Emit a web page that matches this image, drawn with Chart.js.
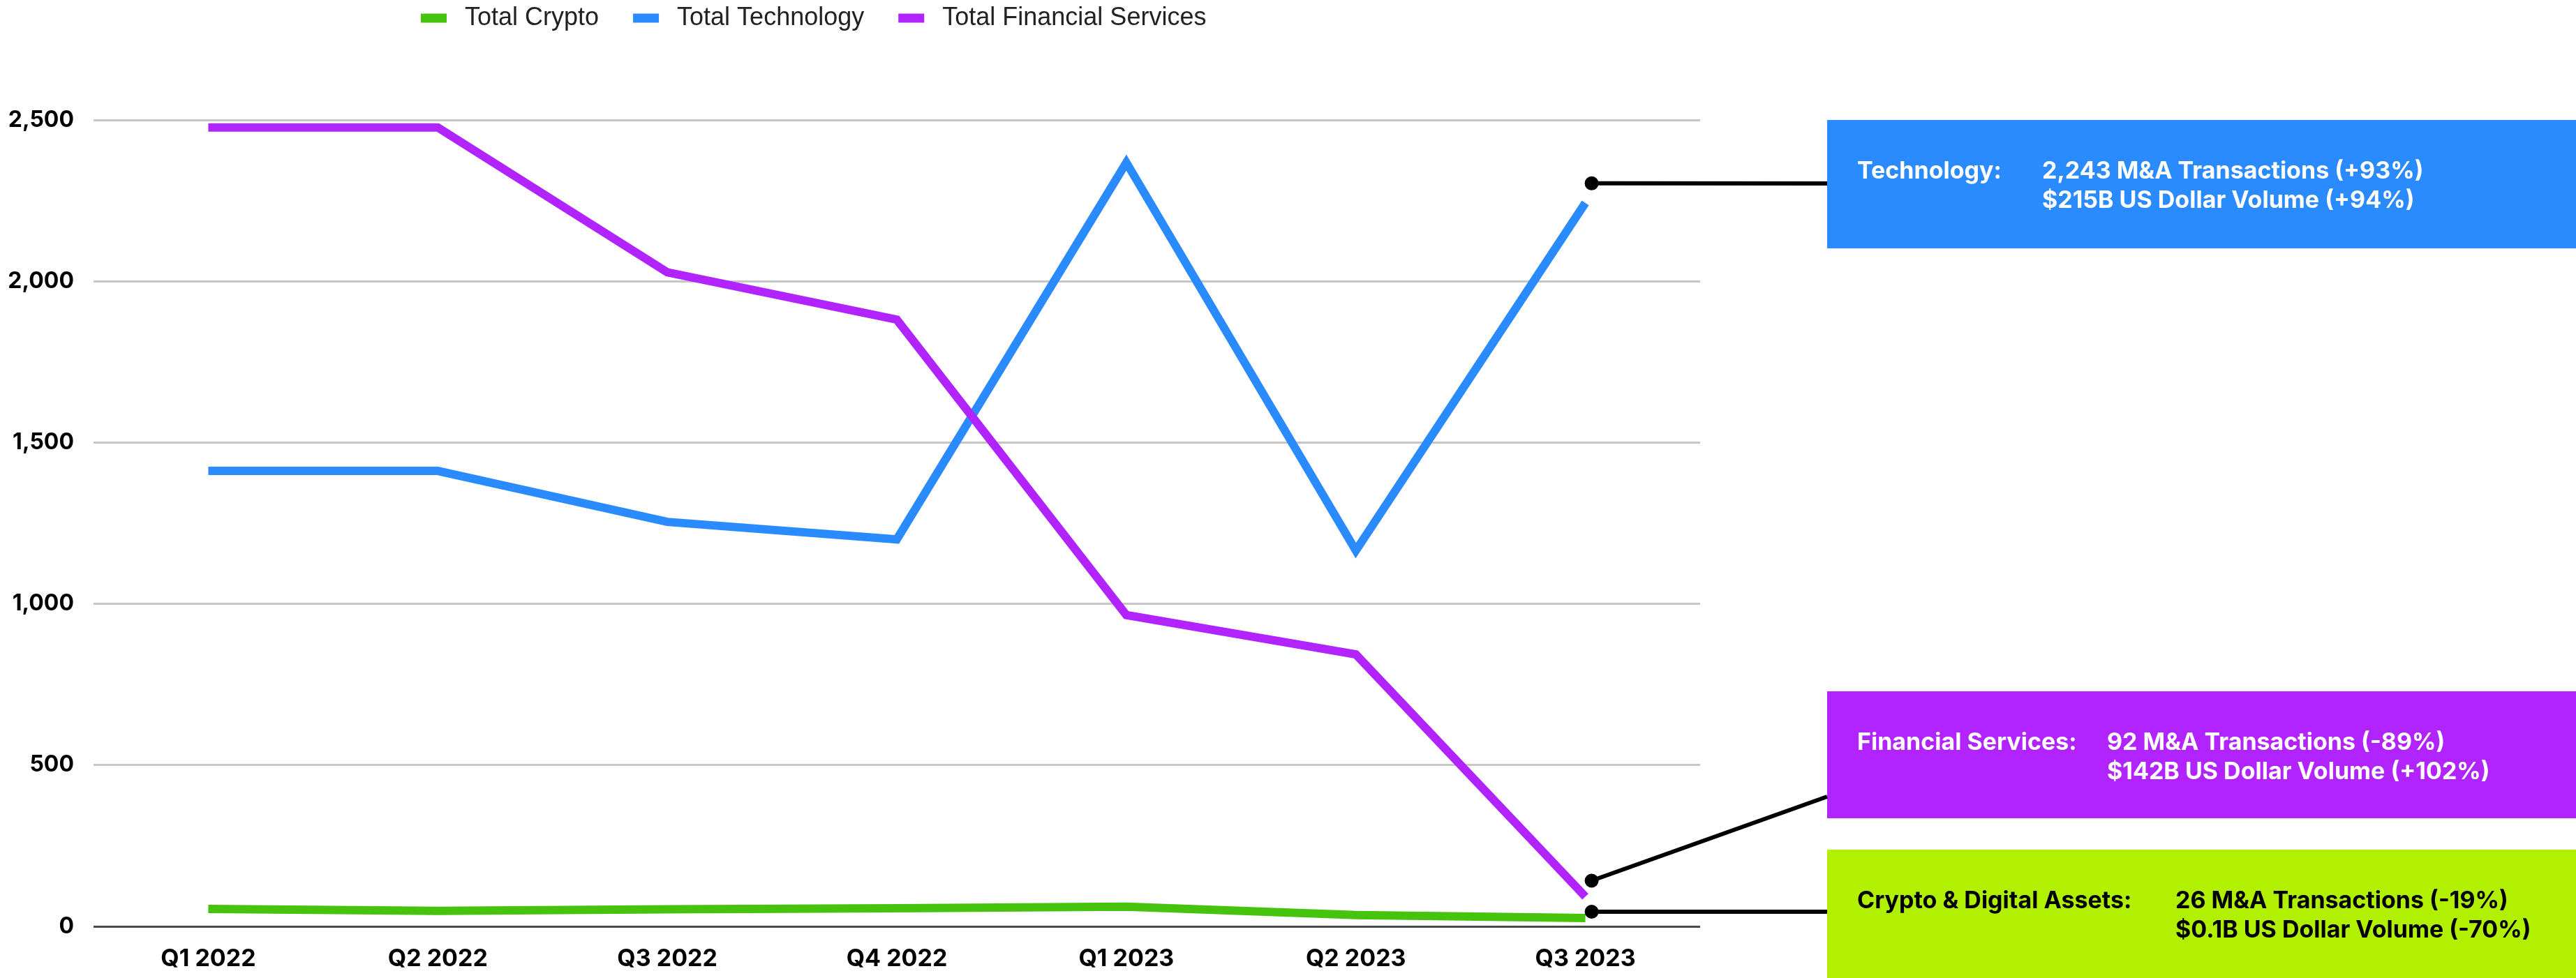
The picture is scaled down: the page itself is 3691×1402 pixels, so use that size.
<!DOCTYPE html>
<html lang="en">
<head>
<meta charset="utf-8">
<title>M&amp;A Transactions by Sector</title>
<script src="https://cdn.jsdelivr.net/npm/chart.js@4.4.1/dist/chart.umd.min.js"></script>
<style>
    html, body { margin: 0; padding: 0; background: #ffffff; }
    #graficoSetores { display: block; }
</style>
</head>
<body>
<canvas id="graficoSetores" width="3691" height="1402"></canvas>
<script>

// dados do gráfico
const trimestres = ['Q1 2022', 'Q2 2022', 'Q3 2022', 'Q4 2022', 'Q1 2023', 'Q2 2023', 'Q3 2023'];
const totalCrypto = [54, 48, 53, 56, 61, 35, 26];
const totalTecnologia = [1412, 1412, 1254, 1200, 2368, 1165, 2243];
const totalServicosFinanceiros = [2477, 2477, 2028, 1881, 965, 843, 92];
const ticksY = [0, 500, 1000, 1500, 2000, 2500];

const nomesSeries = ['Total Crypto', 'Total Technology', 'Total Financial Services'];
const coresSeries = ['#46c30c', '#2a8aff', '#b124ff'];

// textos das caixas de resumo (mesma ordem das séries)
const resumoTitulos = ['Crypto & Digital Assets:', 'Technology:', 'Financial Services:'];
const resumoLinha1 = ['26 M&A Transactions (-19%)', '2,243 M&A Transactions (+93%)', '92 M&A Transactions (-89%)'];
const resumoLinha2 = ['$0.1B US Dollar Volume (-70%)', '$215B US Dollar Volume (+94%)', '$142B US Dollar Volume (+102%)'];

// aparência das caixas
const caixas = [
    { topo: 1218, altura: 184, fundo: '#b1f000', texto: '#000000', colunaValor: 499, ligacao: 89, desvioPonto: -9 },
    { topo: 172, altura: 184, fundo: '#2a8aff', texto: '#ffffff', colunaValor: 308, ligacao: 91, desvioPonto: -28 },
    { topo: 991, altura: 182, fundo: '#b124ff', texto: '#ffffff', colunaValor: 401, ligacao: 151, desvioPonto: -23 }
];
const caixaEsquerda = 2618;

const fonteTexto = 'Inter, "Liberation Sans", sans-serif';

// legenda desenhada à mão para ficar no lugar certo
const legendaManual = {
    id: 'legendaManual',
    afterDraw(chart) {
        const ctx = chart.ctx;
        let x = 603;
        const yCentro = 26;
        ctx.save();
        ctx.font = '36px "Liberation Sans", Arial, sans-serif';
        ctx.textBaseline = 'middle';
        ctx.textAlign = 'left';
        chart.data.datasets.forEach(function (ds) {
            ctx.fillStyle = ds.borderColor;
            ctx.fillRect(x, yCentro - 6.5, 37, 13);
            x += 37 + 26;
            ctx.fillStyle = '#222222';
            ctx.fillText(ds.label, x, yCentro);
            x += ctx.measureText(ds.label).width + 49;
        });
        ctx.restore();
    }
};

// caixas de resumo com as linhas de ligação até o último ponto
const caixasResumo = {
    id: 'caixasResumo',
    afterDraw(chart) {
        const ctx = chart.ctx;
        const largura = chart.width;
        ctx.save();

        for (let i = 0; i < caixas.length; i++) {
            const caixa = caixas[i];
            const meta = chart.getDatasetMeta(i);
            const ultimo = meta.data[meta.data.length - 1];
            const px = ultimo.x + 9;
            const py = ultimo.y + caixa.desvioPonto;

            // fundo
            ctx.fillStyle = caixa.fundo;
            ctx.fillRect(caixaEsquerda, caixa.topo, largura - caixaEsquerda, caixa.altura);

            // linha de ligação
            ctx.strokeStyle = '#000000';
            ctx.lineWidth = 6;
            ctx.beginPath();
            ctx.moveTo(px, py);
            ctx.lineTo(caixaEsquerda, caixa.topo + caixa.ligacao);
            ctx.stroke();

            ctx.fillStyle = '#000000';
            ctx.beginPath();
            ctx.arc(px, py, 10, 0, Math.PI * 2);
            ctx.fill();

            // textos
            ctx.fillStyle = caixa.texto;
            ctx.font = '700 34px ' + fonteTexto;
            ctx.textBaseline = 'alphabetic';
            ctx.textAlign = 'left';
            ctx.fillText(resumoTitulos[i], caixaEsquerda + 43, caixa.topo + 84);
            ctx.fillText(resumoLinha1[i], caixaEsquerda + caixa.colunaValor, caixa.topo + 84);
            ctx.fillText(resumoLinha2[i], caixaEsquerda + caixa.colunaValor, caixa.topo + 126);
        }

        ctx.restore();
    }
};

function montarSeries() {
    const valores = [totalCrypto, totalTecnologia, totalServicosFinanceiros];
    let series = [];
    for (let i = 0; i < valores.length; i++) {
        series.push({
            label: nomesSeries[i],
            data: valores[i],
            borderColor: coresSeries[i],
            backgroundColor: coresSeries[i],
            borderWidth: 12,
            borderCapStyle: 'butt',
            borderJoinStyle: 'miter',
            pointRadius: 0,
            pointHoverRadius: 0,
            tension: 0,
            fill: false,
            order: valores.length - i // roxo por cima
        });
    }
    return series;
}

const config = {
    type: 'line',
    data: {
        labels: trimestres,
        datasets: montarSeries()
    },
    options: {
        responsive: false,
        animation: false,
        events: [],
        layout: {
            padding: { left: 0, top: 172, right: 1255, bottom: 0 }
        },
        plugins: {
            legend: { display: false },
            tooltip: { enabled: false },
            title: { display: false }
        },
        scales: {
            x: {
                offset: true,
                grid: { display: false, drawTicks: false },
                border: { display: false },
                ticks: {
                    color: '#000000',
                    padding: 26,
                    maxRotation: 0,
                    autoSkip: false,
                    font: { family: fonteTexto, size: 34, weight: '700' }
                },
                afterFit: function (scale) { scale.height = 74; }
            },
            y: {
                min: 0,
                max: 2500,
                afterBuildTicks: function (scale) {
                    scale.ticks = ticksY.map(function (v) { return { value: v }; });
                },
                grid: {
                    drawTicks: false,
                    lineWidth: 3,
                    color: function (c) {
                        return c.tick && c.tick.value === 0 ? '#4a4a4a' : '#c6c6c6';
                    }
                },
                border: { display: false },
                ticks: {
                    color: '#000000',
                    padding: 28,
                    font: { family: fonteTexto, size: 32, weight: '700' }
                },
                afterFit: function (scale) { scale.width = 134; }
            }
        }
    },
    plugins: [legendaManual, caixasResumo]
};

let graficoSetores = new Chart(
    document.getElementById('graficoSetores'),
    config
);

</script>
</body>
</html>
